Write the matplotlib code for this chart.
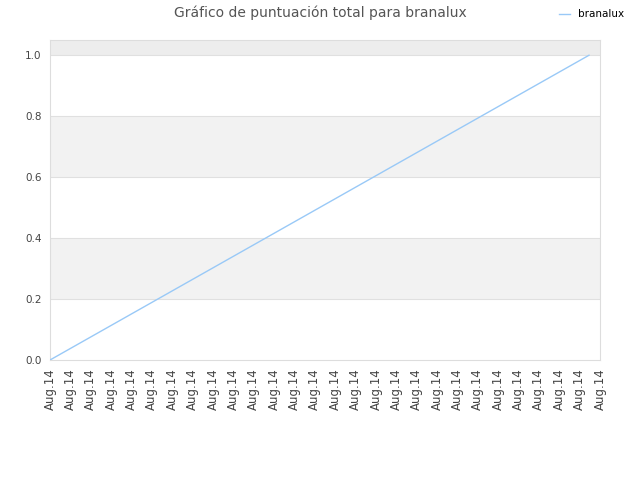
import matplotlib
matplotlib.use("Agg")
import matplotlib.pyplot as plt

# data
tick_labels = ["Aug.14"] * 28
x_days = [0, 26.46]
scores = [0.0, 1.0]
series_name = "branalux"

fig = plt.figure(figsize=(6.4, 4.8), dpi=100)
ax = fig.add_axes([50 / 640, 120 / 480, 550 / 640, 320 / 480])

# alternating bands
for lo, hi in [(0.2, 0.4), (0.6, 0.8)]:
    ax.axhspan(lo, hi, color="#f2f2f2", zorder=0, lw=0)
ax.axhspan(1.0, 1.05, color="#ededed", zorder=0, lw=0)
for y in [0.2, 0.4, 0.6, 0.8, 1.0]:
    ax.axhline(y, color="#e0e0e0", lw=0.8, zorder=1)

ax.plot(x_days, scores, color="#99c9f7", lw=1.0, label=series_name, zorder=3)

ax.set_xlim(0, len(tick_labels) - 1)
ax.set_ylim(0, 1.05)
ax.set_xticks(range(len(tick_labels)))
ax.set_xticklabels(tick_labels, rotation=90, fontsize=8.5, color="#444444")
ax.set_yticks([0.0, 0.2, 0.4, 0.6, 0.8, 1.0])
ax.set_yticklabels(["0.0", "0.2", "0.4", "0.6", "0.8", "1.0"], fontsize=7.5, color="#444444")
ax.tick_params(length=0, pad=6)
for s in ax.spines.values():
    s.set_color("#dddddd")

fig.text(0.5, 1 - 13 / 480, "Gráfico de puntuación total para branalux",
         ha="center", va="center", fontsize=10, color="#555555")
fig.legend(loc="upper right", bbox_to_anchor=(0.99, 1.0), frameon=False,
           fontsize=7.5, handlelength=1.0, handletextpad=0.8)

fig.savefig("out.png", dpi=100)
